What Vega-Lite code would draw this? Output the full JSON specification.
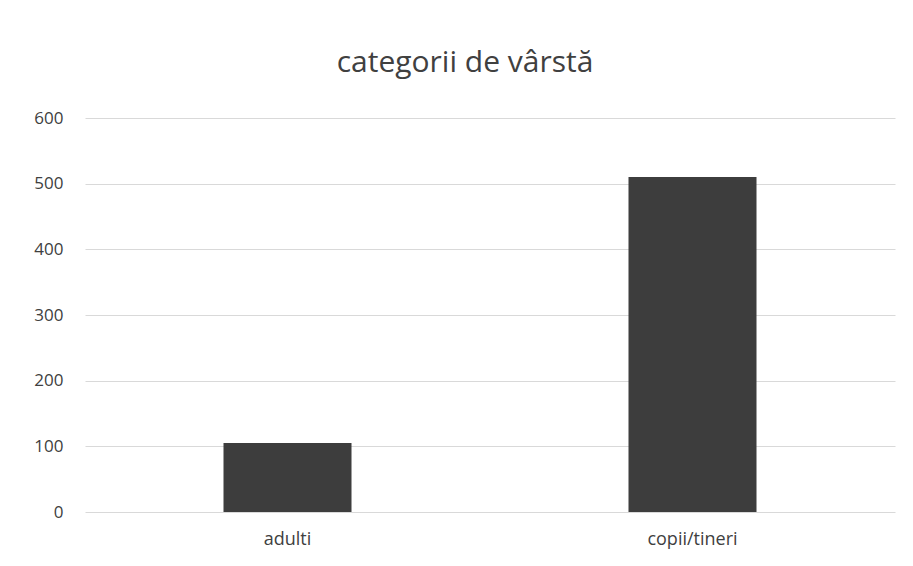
{
  "$schema": "https://vega.github.io/schema/vega-lite/v6.json",
  "autosize": {"type": "none"},
  "width": 810,
  "height": 394,
  "padding": {"left": 85, "top": 118, "right": 18, "bottom": 54},
  "background": "#ffffff",
  "title": {
    "text": "categorii de vârstă",
    "font": "Open Sans",
    "fontSize": 30,
    "fontWeight": "normal",
    "color": "#404040",
    "anchor": "middle",
    "offset": 31,
    "dx": -25
  },
  "data": {
    "values": [
      {"categorie": "adulti", "valoare": 105},
      {"categorie": "copii/tineri", "valoare": 510}
    ]
  },
  "mark": {"type": "bar", "width": 128, "color": "#3d3d3d"},
  "encoding": {
    "x": {
      "field": "categorie",
      "type": "nominal",
      "sort": null,
      "scale": {"paddingInner": 0, "paddingOuter": 0},
      "axis": {
        "title": null,
        "labelAngle": 0,
        "labelFont": "Open Sans",
        "labelFontSize": 18,
        "labelColor": "#404040",
        "labelPadding": 18,
        "ticks": false,
        "domain": false
      }
    },
    "y": {
      "field": "valoare",
      "type": "quantitative",
      "scale": {"domain": [0, 600]},
      "axis": {
        "title": null,
        "values": [0, 100, 200, 300, 400, 500, 600],
        "labelFont": "Open Sans",
        "labelFontSize": 17,
        "labelColor": "#404040",
        "labelPadding": 22,
        "ticks": false,
        "domain": false,
        "gridColor": "#d9d9d9",
        "gridWidth": 1
      }
    }
  },
  "config": {"view": {"stroke": null}}
}
